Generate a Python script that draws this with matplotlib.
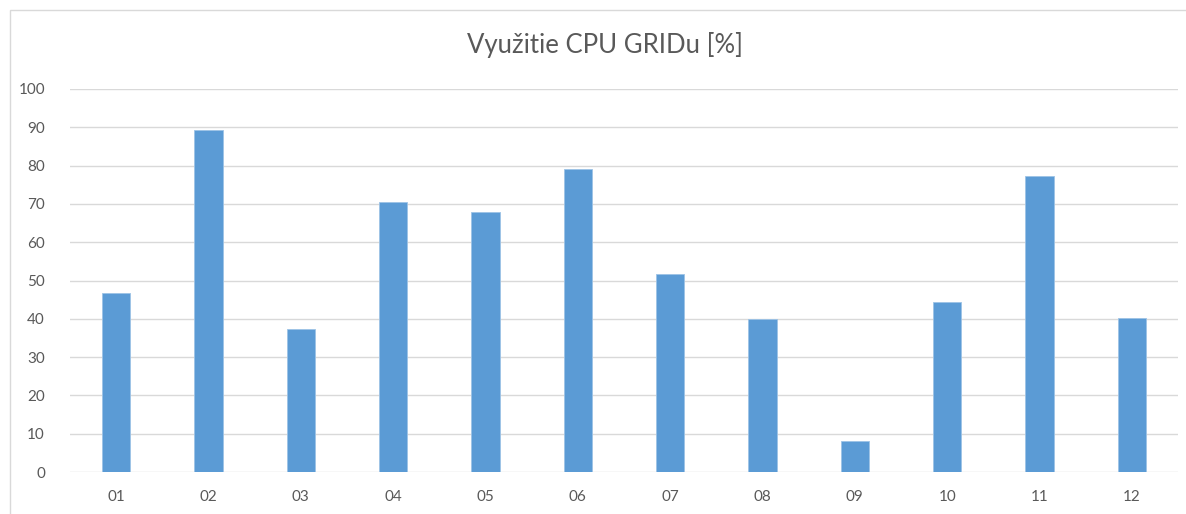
import matplotlib.pyplot as plt
from matplotlib.patches import Rectangle

months = ["01", "02", "03", "04", "05", "06", "07", "08", "09", "10", "11", "12"]
cpu_usage = [46.7, 89.2, 37.3, 70.4, 68.0, 79.2, 51.6, 39.9, 8.0, 44.5, 77.2, 40.3]
y_ticks = [0, 10, 20, 30, 40, 50, 60, 70, 80, 90, 100]

BAR_COLOR = "#5b9bd5"
TEXT_COLOR = "#595959"
GRID_COLOR = "#d9d9d9"

plt.rcParams["font.family"] = ["Lato", "DejaVu Sans"]

fig = plt.figure(figsize=(11.86, 5.14), dpi=100)
fig.patches.append(Rectangle((10 / 1186, -0.01), 1.02, 1 - 10 / 514 + 0.01,
                             transform=fig.transFigure, fill=False,
                             edgecolor="#d9d9d9", linewidth=1.0))

ax = fig.add_axes([70 / 1186, 1 - 472 / 514, (1178 - 70) / 1186, (472 - 89) / 514])
x = range(len(months))
ax.bar(x, cpu_usage, width=0.31, color=BAR_COLOR, edgecolor="#9dc3e6", linewidth=0.6, zorder=3)

ax.set_xlim(-0.5, len(months) - 0.5)
ax.set_ylim(0, 100)
ax.set_yticks(y_ticks)
ax.set_xticks(list(x))
ax.set_xticklabels(months)
ax.tick_params(axis="both", length=0, colors=TEXT_COLOR, labelsize=11)
ax.tick_params(axis="x", pad=13)
ax.tick_params(axis="y", pad=18)
ax.grid(axis="y", color=GRID_COLOR, linewidth=1.0, zorder=0)
for s in ax.spines.values():
    s.set_visible(False)

fig.text(605 / 1186, 1 - 45 / 514, "Využitie CPU GRIDu [%]", ha="center", va="center",
         fontsize=18.5, color=TEXT_COLOR)

fig.savefig("out.png", dpi=100)
